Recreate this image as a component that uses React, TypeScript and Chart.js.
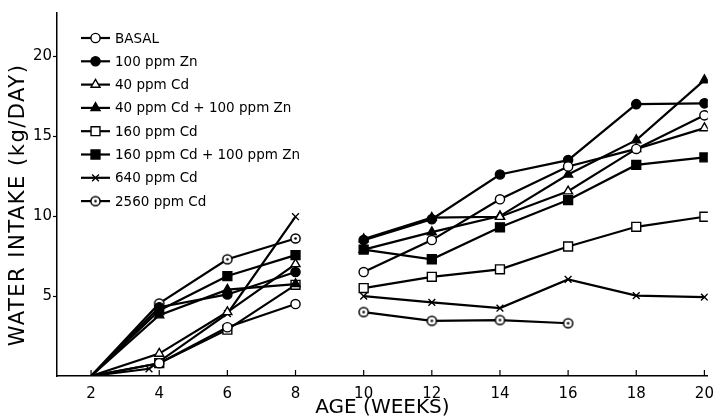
import React, { useEffect, useRef } from "react";
import { Chart, registerables } from "chart.js";
import { drawPoint } from "chart.js/helpers";

Chart.register(...registerables);

// ---- data ----
const weeks = [2, 4, 6, 8, 10, 12, 14, 16, 18, 20];
const weeks640 = [2, 3.7, 6, 8, 10, 12, 14, 16, 18, 20];
const weeks2560 = [2, 4, 6, 8, 10, 12, 14, 16];

const basal = [0, 0.8, 3.05, 4.5, 6.5, 8.5, 11.05, 13.1, 14.2, 16.3];
const zn100 = [0, 4.3, 5.1, 6.5, 8.5, 9.8, 12.6, 13.5, 17.0, 17.05];
const cd40 = [0, 1.4, 4.0, 7.0, 8.56, 9.9, 9.96, 11.55, 14.2, 15.5];
const cd40zn100 = [0, 3.8, 5.4, 5.75, 7.9, 9.0, 10.0, 12.6, 14.75, 18.5];
const cd160 = [0, 0.8, 2.9, 5.7, 5.5, 6.2, 6.67, 8.1, 9.33, 9.96];
const cd160zn100 = [0, 4.1, 6.25, 7.56, 7.9, 7.3, 9.3, 11.0, 13.2, 13.67];
const cd640 = [0, 0.45, 3.9, 9.96, 5.0, 4.6, 4.25, 6.04, 5.03, 4.93];
const cd2560 = [0, 4.54, 7.3, 8.6, 4.0, 3.45, 3.5, 3.3];

const seriesLabels = [
  "BASAL",
  "100 ppm Zn",
  "40 ppm Cd",
  "40 ppm Cd + 100 ppm Zn",
  "160 ppm Cd",
  "160 ppm Cd + 100 ppm Zn",
  "640 ppm Cd",
  "2560 ppm Cd",
];

const xTicks = [2, 4, 6, 8, 10, 12, 14, 16, 18, 20];
const yTicks = [5, 10, 15, 20];
const xTitle = "AGE (WEEKS)";
const yTitle = "WATER INTAKE (kg/DAY)";

const FONT = '"DejaVu Sans", sans-serif';

function makeDotCircle(): HTMLCanvasElement {
  const c = document.createElement("canvas");
  c.width = 13;
  c.height = 13;
  const g = c.getContext("2d")!;
  g.beginPath();
  g.arc(6.5, 6.5, 4.6, 0, Math.PI * 2);
  g.fillStyle = "#fff";
  g.fill();
  g.lineWidth = 1.5;
  g.strokeStyle = "#000";
  g.stroke();
  g.beginPath();
  g.arc(6.5, 6.5, 1.3, 0, Math.PI * 2);
  g.fillStyle = "#000";
  g.fill();
  return c;
}

export default function App() {
  const ref = useRef<HTMLCanvasElement | null>(null);

  useEffect(() => {
    if (!ref.current) return;
    const dotCircle = makeDotCircle();

    const styles: any[] = [
      { pointStyle: "circle", fill: "#fff", r: 4.6 },
      { pointStyle: "circle", fill: "#000", r: 4.6 },
      { pointStyle: "triangle", fill: "#fff", r: 5.2 },
      { pointStyle: "triangle", fill: "#000", r: 5.2 },
      { pointStyle: "rect", fill: "#fff", r: 6.3 },
      { pointStyle: "rect", fill: "#000", r: 6.3 },
      { pointStyle: "crossRot", fill: "#fff", r: 4.8 },
      { pointStyle: dotCircle, fill: "#fff", r: 4.6 },
    ];

    const raw = [
      [weeks, basal],
      [weeks, zn100],
      [weeks, cd40],
      [weeks, cd40zn100],
      [weeks, cd160],
      [weeks, cd160zn100],
      [weeks640, cd640],
      [weeks2560, cd2560],
    ];

    const datasets = raw.map(([xs, ys], i) => ({
      label: seriesLabels[i],
      data: (xs as number[]).map((x, j) => ({ x, y: (ys as number[])[j] })),
      borderColor: "#000",
      borderWidth: 2.2,
      backgroundColor: styles[i].fill,
      pointBackgroundColor: styles[i].fill,
      pointBorderColor: "#000",
      pointBorderWidth: 1.4,
      pointStyle: styles[i].pointStyle,
      pointRadius: (c: any) => (c.raw && c.raw.x === 2 ? 0 : styles[i].r),
      tension: 0,
      segment: {
        borderColor: (c: any) =>
          c.p0.parsed.x < 9 && c.p1.parsed.x > 9 ? "rgba(0,0,0,0)" : "#000",
      },
    }));

    const decor = {
      id: "decor",
      afterDraw(chart: any) {
        const ctx = chart.ctx as CanvasRenderingContext2D;
        const xs = chart.scales.x;
        const area = chart.chartArea;
        ctx.save();
        ctx.strokeStyle = "#000";
        ctx.lineWidth = 1.2;
        xTicks.forEach((v) => {
          const px = xs.getPixelForValue(v);
          ctx.beginPath();
          ctx.moveTo(px, area.bottom);
          ctx.lineTo(px, area.bottom - 6);
          ctx.stroke();
        });
        ctx.fillStyle = "#000";
        ctx.textAlign = "center";
        ctx.textBaseline = "middle";
        ctx.font = `20px ${FONT}`;
        ctx.fillText(xTitle, (area.left + area.right) / 2, 408);
        ctx.save();
        ctx.translate(19, 205);
        ctx.rotate(-Math.PI / 2);
        ctx.font = `21px ${FONT}`;
        (ctx as any).letterSpacing = "1.5px";
        ctx.fillText(yTitle, 0, 0);
        ctx.restore();

        // legend
        ctx.font = `13.5px ${FONT}`;
        ctx.textAlign = "left";
        ctx.textBaseline = "middle";
        chart.data.datasets.forEach((ds: any, i: number) => {
          const yy = 38 + i * 23.3;
          ctx.strokeStyle = "#000";
          ctx.lineWidth = 2.2;
          ctx.beginPath();
          ctx.moveTo(81, yy);
          ctx.lineTo(110, yy);
          ctx.stroke();
          ctx.fillStyle = styles[i].fill;
          ctx.lineWidth = 1.4;
          drawPoint(
            ctx,
            { pointStyle: styles[i].pointStyle, radius: styles[i].r, rotation: 0, borderWidth: 1.4 } as any,
            95.5,
            yy
          );
          ctx.fillStyle = "#000";
          ctx.fillText(ds.label, 115, yy + 1);
        });
        ctx.restore();
      },
    };

    const chart = new Chart(ref.current, {
      type: "line",
      data: { datasets: datasets as any },
      options: {
        responsive: false,
        animation: false,
        layout: { padding: { top: 13, right: 9, left: 0, bottom: 0 } },
        plugins: { legend: { display: false }, tooltip: { enabled: false } },
        scales: {
          x: {
            type: "linear",
            min: 1,
            max: 20.1,
            afterFit: (s: any) => {
              s.height = 43;
            },
            afterBuildTicks: (s: any) => {
              s.ticks = xTicks.map((v) => ({ value: v }));
            },
            ticks: {
              color: "#000",
              font: { family: FONT, size: 15 },
              padding: 9,
              maxRotation: 0,
              autoSkip: false,
            },
            grid: { drawOnChartArea: false, drawTicks: false },
            border: { display: true, color: "#000", width: 1.5 },
          },
          y: {
            type: "linear",
            min: 0,
            max: 22.7,
            afterFit: (s: any) => {
              s.width = 57;
            },
            afterBuildTicks: (s: any) => {
              s.ticks = yTicks.map((v) => ({ value: v }));
            },
            ticks: {
              color: "#000",
              font: { family: FONT, size: 15 },
              padding: 1,
            },
            grid: {
              drawOnChartArea: false,
              drawTicks: true,
              tickLength: 4,
              color: "#000",
              tickWidth: 1.2,
            },
            border: { display: true, color: "#000", width: 1.5 },
          },
        },
      },
      plugins: [decor],
    });
    return () => chart.destroy();
  }, []);

  return (
    <div style={{ position: "fixed", left: 0, top: 0, width: 723, height: 419, background: "#fff" }}>
      <canvas ref={ref} width={723} height={419} style={{ width: 723, height: 419 }} />
    </div>
  );
}
